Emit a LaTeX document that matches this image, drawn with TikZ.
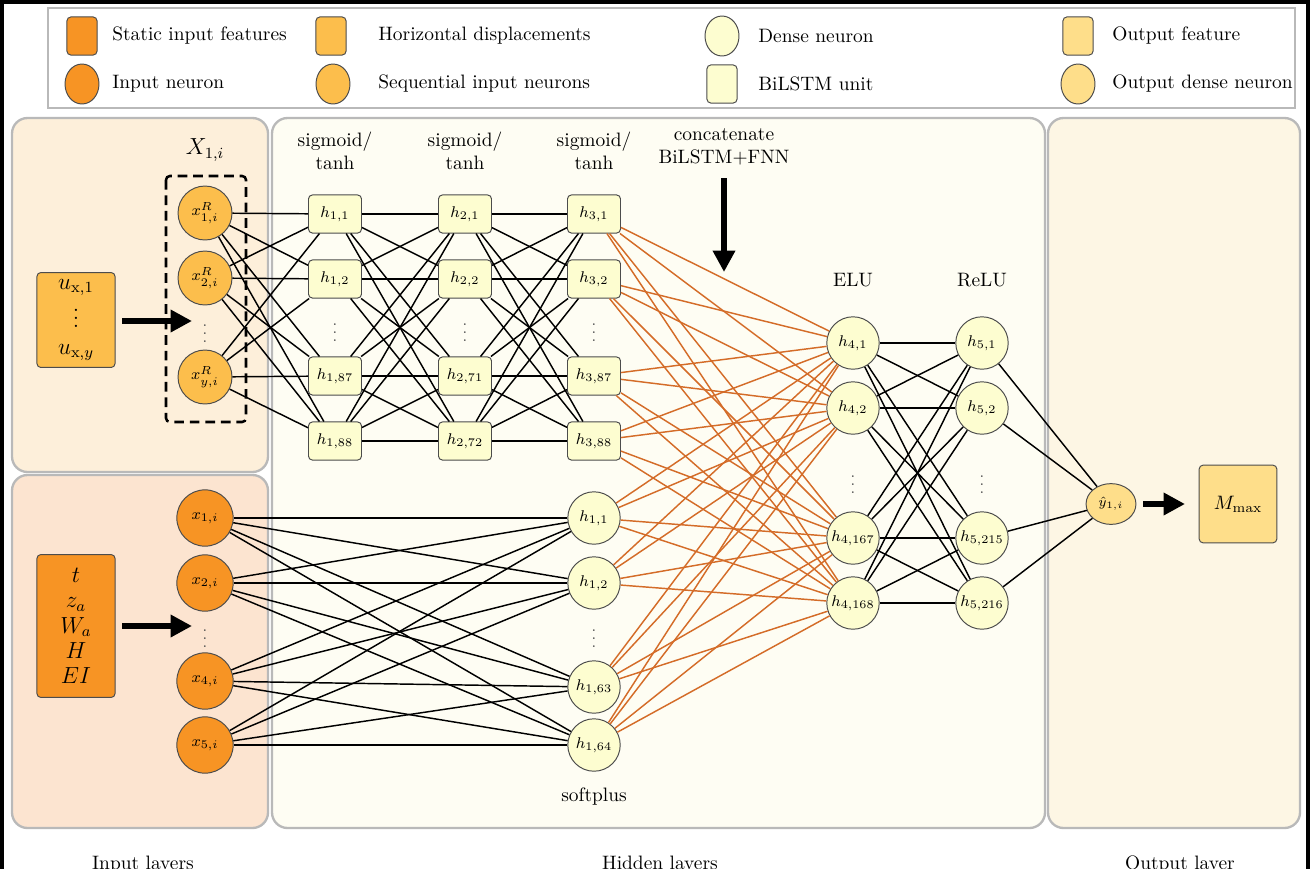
\documentclass[tikz,border=0pt]{standalone}
\usetikzlibrary{arrows.meta,shapes.geometric}
\definecolor{cStatic}{RGB}{247,148,36}
\definecolor{cSeq}{RGB}{252,190,76}
\definecolor{cDense}{RGB}{253,253,208}
\definecolor{cOut}{RGB}{254,222,138}
\definecolor{cEdge}{RGB}{212,108,40}
\definecolor{pInTop}{RGB}{253,239,218}
\definecolor{pInBot}{RGB}{252,228,208}
\definecolor{pHid}{RGB}{254,253,243}
\definecolor{pOut}{RGB}{253,246,228}
\definecolor{cBorder}{RGB}{185,185,185}
\begin{document}
\begin{tikzpicture}[x=0.515pt,y=-0.515pt,
  panel/.style={draw=cBorder,line width=1.2pt,rounded corners=8pt},
  nodeborder/.style={draw=black!70,line width=0.5pt},
  seqneuron/.style={circle,nodeborder,fill=cSeq,minimum size=27.8pt,inner sep=0pt,font=\footnotesize},
  statneuron/.style={circle,nodeborder,fill=cStatic,minimum size=29pt,inner sep=0pt,font=\footnotesize},
  lstmbox/.style={rectangle,rounded corners=2pt,nodeborder,fill=cDense,minimum width=27.3pt,minimum height=19.6pt,inner sep=0pt,font=\footnotesize},
  denseneuron/.style={circle,nodeborder,fill=cDense,minimum size=27pt,inner sep=0pt,font=\footnotesize},
  featbox/.style={rectangle,rounded corners=2pt,nodeborder,inner sep=0pt},
  legsq/.style={rectangle,rounded corners=2pt,nodeborder,minimum width=15.5pt,minimum height=19.6pt},
  legcirc/.style={ellipse,nodeborder,minimum width=17.5pt,minimum height=20.6pt,inner sep=0pt},
  legtext/.style={anchor=west,inner sep=0pt},
  vdotsnode/.style={font=\footnotesize,text=black!70},
  conn/.style={line width=0.75pt,black},
  oconn/.style={line width=0.75pt,cEdge},
  bigarrow/.style={line width=3pt,-{Triangle[length=11pt,width=11pt]}}
]
\useasboundingbox (0,0) rectangle (1311,868);
\clip (0,0) rectangle (1311,868);
\fill[white] (0,0) rectangle (1311,868);
% outer frame
\draw[line width=1.6pt] (2,2) rectangle (1308,900);
% legend
\draw[draw=cBorder,line width=0.8pt,fill=white] (48,8) rectangle (1295,108);
\node[legsq,fill=cStatic] (lg1) at (82,36) {};
\node[legtext] (lt1) at (112,36) {Static input features};
\node[legsq,fill=cSeq] (lg2) at (331,36) {};
\node[legtext] (lt2) at (378,36) {Horizontal displacements};
\node[legcirc,fill=cDense] (lg3) at (722,36) {};
\node[legtext] (lt3) at (758,36) {Dense neuron};
\node[legsq,fill=cOut] (lg4) at (1078,36) {};
\node[legtext] (lt4) at (1112,36) {Output feature};
\node[legcirc,fill=cStatic] (lg5) at (82,84) {};
\node[legtext] (lt5) at (112,84) {Input neuron};
\node[legcirc,fill=cSeq] (lg6) at (333,84) {};
\node[legtext] (lt6) at (378,84) {Sequential input neurons};
\node[legsq,fill=cDense] (lg7) at (722,84) {};
\node[legtext] (lt7) at (758,84) {BiLSTM unit};
\node[legcirc,fill=cOut] (lg8) at (1078,84) {};
\node[legtext] (lt8) at (1112,84) {Output dense neuron};
% panels
\draw[panel,fill=pInTop] (12,118) rectangle (268,472);
\draw[panel,fill=pInBot] (12,475) rectangle (268,828);
\draw[panel,fill=pHid] (272,118) rectangle (1045,828);
\draw[panel,fill=pOut] (1048,118) rectangle (1300,828);
% bottom captions
\node[anchor=base] (capin) at (143,869) {Input layers};
\node[anchor=base] (caphid) at (660,869) {Hidden layers};
\node[anchor=base] (capout) at (1180,869) {Output layer};
% sequential input
\node[font=\large] (xlab) at (205,150) {$X_{1,i}$};
\draw[dashed,line width=1.3pt,dash pattern=on 5pt off 3pt,rounded corners=2pt] (166,176) rectangle (246,422);
\node[seqneuron] (r1) at (205,213) {$x^R_{1,i}$};
\node[seqneuron] (r2) at (205,278) {$x^R_{2,i}$};
\node[vdotsnode] (rd) at (205,328) {$\vdots$};
\node[seqneuron] (r3) at (205,377) {$x^R_{y,i}$};
\node[featbox,fill=cSeq,minimum width=40.2pt,minimum height=48.9pt,align=center,font=\large] (ubox) at (76,320) {$u_{\mathrm{x},1}$\\$\vdots$\\$u_{\mathrm{x},y}$};
\coordinate (uarrStart) at (122,321);
\coordinate (uarrEnd) at (192,321);
\draw[bigarrow] (uarrStart) -- (uarrEnd);
% static input
\node[featbox,fill=cStatic,minimum width=40.2pt,minimum height=73.6pt,align=center,font=\large] (sbox) at (76,626) {$t$\\[-1pt]$z_a$\\[-1pt]$W_a$\\[-1pt]$H$\\[-1pt]$EI$};
\coordinate (sarrStart) at (122,626);
\coordinate (sarrEnd) at (192,626);
\draw[bigarrow] (sarrStart) -- (sarrEnd);
\node[statneuron] (s1) at (205,518) {$x_{1,i}$};
\node[statneuron] (s2) at (205,583) {$x_{2,i}$};
\node[vdotsnode] (sd) at (205,633) {$\vdots$};
\node[statneuron] (s3) at (205,681) {$x_{4,i}$};
\node[statneuron] (s4) at (205,745) {$x_{5,i}$};
% BiLSTM layers
\node[align=center] (lab1) at (335,151) {sigmoid/\\tanh};
\node[align=center] (lab2) at (465,151) {sigmoid/\\tanh};
\node[align=center] (lab3) at (594,151) {sigmoid/\\tanh};
\node[lstmbox] (a1) at (335,214) {$h_{1,1}$};
\node[lstmbox] (a2) at (335,279) {$h_{1,2}$};
\node[vdotsnode] (ad) at (335,327) {$\vdots$};
\node[lstmbox] (a3) at (335,376) {$h_{1,87}$};
\node[lstmbox] (a4) at (335,441) {$h_{1,88}$};
\node[lstmbox] (b1) at (465,214) {$h_{2,1}$};
\node[lstmbox] (b2) at (465,279) {$h_{2,2}$};
\node[vdotsnode] (bd) at (465,327) {$\vdots$};
\node[lstmbox] (b3) at (465,376) {$h_{2,71}$};
\node[lstmbox] (b4) at (465,441) {$h_{2,72}$};
\node[lstmbox] (c1) at (594,214) {$h_{3,1}$};
\node[lstmbox] (c2) at (594,279) {$h_{3,2}$};
\node[vdotsnode] (cd) at (594,327) {$\vdots$};
\node[lstmbox] (c3) at (594,376) {$h_{3,87}$};
\node[lstmbox] (c4) at (594,441) {$h_{3,88}$};
% softplus layer
\node[denseneuron] (p1) at (594,518) {$h_{1,1}$};
\node[denseneuron] (p2) at (594,583) {$h_{1,2}$};
\node[vdotsnode] (pd) at (594,633) {$\vdots$};
\node[denseneuron] (p3) at (594,687) {$h_{1,63}$};
\node[denseneuron] (p4) at (594,745) {$h_{1,64}$};
\node (splab) at (594,797) {softplus};
% concatenate
\node[align=center] (catlab) at (724,147) {concatenate\\BiLSTM+FNN};
\coordinate (catTop) at (724,178);
\coordinate (catEnd) at (724,272);
\draw[bigarrow] (catTop) -- (catEnd);
% ELU / ReLU
\node (elu) at (853,280) {ELU};
\node (relu) at (982,280) {ReLU};
\node[denseneuron] (d1) at (853,343) {$h_{4,1}$};
\node[denseneuron] (d2) at (853,408) {$h_{4,2}$};
\node[vdotsnode] (dd) at (853,479) {$\vdots$};
\node[denseneuron] (d3) at (853,538) {$h_{4,167}$};
\node[denseneuron] (d4) at (853,603) {$h_{4,168}$};
\node[denseneuron] (e1) at (982,343) {$h_{5,1}$};
\node[denseneuron] (e2) at (982,408) {$h_{5,2}$};
\node[vdotsnode] (ed) at (982,479) {$\vdots$};
\node[denseneuron] (e3) at (982,538) {$h_{5,215}$};
\node[denseneuron] (e4) at (982,603) {$h_{5,216}$};
% output
\node[ellipse,nodeborder,fill=cOut,minimum width=25.7pt,minimum height=21pt,inner sep=0pt,font=\scriptsize] (yh) at (1111,504) {$\hat{y}_{1,i}$};
\node[featbox,fill=cOut,minimum width=40pt,minimum height=40pt] (mm) at (1238,504) {$M_{\max}$};
\coordinate (oarrStart) at (1143,504);
\coordinate (oarrEnd) at (1185,504);
\draw[bigarrow] (oarrStart) -- (oarrEnd);
% connections
\foreach \u in {r1,r2,r3} \foreach \v in {a1,a2,a3,a4} \draw[conn] (\u) -- (\v);
\foreach \u in {a1,a2,a3,a4} \foreach \v in {b1,b2,b3,b4} \draw[conn] (\u) -- (\v);
\foreach \u in {b1,b2,b3,b4} \foreach \v in {c1,c2,c3,c4} \draw[conn] (\u) -- (\v);
\foreach \u in {s1,s2,s3,s4} \foreach \v in {p1,p2,p3,p4} \draw[conn] (\u) -- (\v);
\foreach \u in {c1,c2,c3,c4,p1,p2,p3,p4} \foreach \v in {d1,d2,d3,d4} \draw[oconn] (\u) -- (\v);
\foreach \u in {d1,d2,d3,d4} \foreach \v in {e1,e2,e3,e4} \draw[conn] (\u) -- (\v);
\foreach \u in {e1,e2,e3,e4} \draw[conn] (\u) -- (yh);
\end{tikzpicture}
\end{document}
